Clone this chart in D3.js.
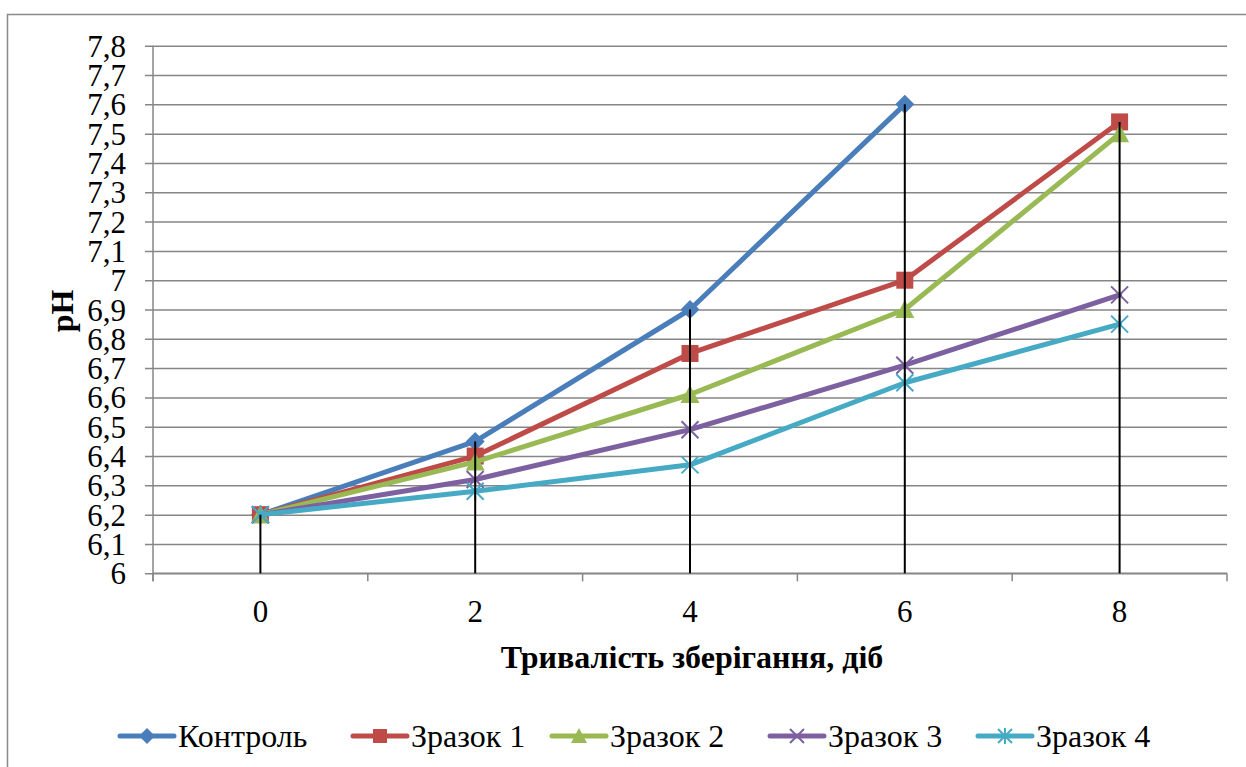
<!DOCTYPE html>
<html>
<head>
<meta charset="utf-8">
<script src="https://cdn.jsdelivr.net/npm/d3@7"></script>
<style>
    body { margin: 0; background: #fff; }
    svg { display: block; }
</style>
</head>
<body>
<svg id="chart" width="1246" height="767"></svg>
<script>
// дані
const days = ['0', '2', '4', '6', '8'];
const seriesNames = ['Контроль', 'Зразок 1', 'Зразок 2', 'Зразок 3', 'Зразок 4'];
const kontrol = [6.2, 6.45, 6.9, 7.6, null];
const zrazok1 = [6.2, 6.4, 6.75, 7.0, 7.54];
const zrazok2 = [6.2, 6.38, 6.61, 6.9, 7.5];
const zrazok3 = [6.2, 6.32, 6.49, 6.71, 6.95];
const zrazok4 = [6.2, 6.28, 6.37, 6.65, 6.85];
const yTicks = [6, 6.1, 6.2, 6.3, 6.4, 6.5, 6.6, 6.7, 6.8, 6.9, 7, 7.1, 7.2, 7.3, 7.4, 7.5, 7.6, 7.7, 7.8];

const colors = ['#4A7EBB', '#BE4B48', '#98B954', '#7D60A0', '#46AAC5'];
const markers = ['diamond', 'square', 'triangle', 'x', 'star'];
const allSeries = [kontrol, zrazok1, zrazok2, zrazok3, zrazok4];
const fontFam = 'Liberation Serif';

let svg = d3.select('#chart');

// рамка
svg.append('path')
    .attr('d', 'M7.5,800 L7.5,14.5 L1300,14.5')
    .attr('fill', 'none')
    .attr('stroke', '#8a8a8a')
    .attr('stroke-width', 1.5);

let plot = {left: 153, right: 1227, top: 45.7, bottom: 573.3};

let x = d3.scaleBand()
    .domain(days)
    .range([plot.left, plot.right])
    .padding(0);
let y = d3.scaleLinear()
    .domain([6, 7.8])
    .range([plot.bottom, plot.top]);

// сітка + вісь Y
let yAxis = svg.append('g')
    .attr('transform', 'translate(' + plot.left + ',0)')
    .call(d3.axisLeft(y)
        .tickValues(yTicks)
        .tickSize(8)
        .tickFormat(d => String(+d.toFixed(1)).replace('.', ',')));
yAxis.attr('font-family', fontFam).attr('font-size', 31);
yAxis.select('.domain').remove();
yAxis.selectAll('.tick line')
    .attr('stroke', '#868686')
    .attr('stroke-width', 1.5)
    .attr('x1', -8)
    .attr('x2', plot.right - plot.left);
yAxis.selectAll('.tick text')
    .attr('x', -27)
    .attr('dy', '0.34em')
    .attr('fill', '#000');

// вісь Y лінія
svg.append('line')
    .attr('x1', plot.left).attr('x2', plot.left)
    .attr('y1', plot.top).attr('y2', plot.bottom + 8)
    .attr('stroke', '#868686').attr('stroke-width', 1.5);

// вісь X
let xAxis = svg.append('g')
    .attr('transform', 'translate(0,' + plot.bottom + ')')
    .call(d3.axisBottom(x).tickSize(0).tickPadding(0));
xAxis.attr('font-family', fontFam).attr('font-size', 31);
xAxis.select('.domain').remove();
xAxis.selectAll('.tick text')
    .attr('y', 49)
    .attr('dy', 0)
    .attr('fill', '#000');
svg.append('line')
    .attr('x1', plot.left).attr('x2', plot.right)
    .attr('y1', plot.bottom).attr('y2', plot.bottom)
    .attr('stroke', '#868686').attr('stroke-width', 1.5);
// поділки між категоріями
let bounds = days.map(d => x(d)).concat([x(days[days.length - 1]) + x.bandwidth()]);
svg.selectAll('.xtick')
    .data(bounds)
    .enter()
    .append('line')
    .attr('x1', d => d).attr('x2', d => d)
    .attr('y1', plot.bottom).attr('y2', plot.bottom + 8)
    .attr('stroke', '#868686').attr('stroke-width', 1.5);

// підписи осей
svg.append('text')
    .attr('x', (plot.left + plot.right) / 2 + 2)
    .attr('y', 668)
    .attr('text-anchor', 'middle')
    .attr('font-family', fontFam)
    .attr('font-size', 32)
    .attr('font-weight', 'bold')
    .text('Тривалість зберігання, діб');
svg.append('text')
    .attr('transform', 'translate(73,311) rotate(-90)')
    .attr('text-anchor', 'middle')
    .attr('font-family', fontFam)
    .attr('font-size', 32)
    .attr('font-weight', 'bold')
    .text('pH');

// маркери
function drawMarker(g, type, color, cx, cy, s) {
    let h = s / 2;
    if (type === 'diamond') {
        g.append('path')
            .attr('d', `M${cx},${cy - h - 1}L${cx + h + 1},${cy}L${cx},${cy + h + 1}L${cx - h - 1},${cy}Z`)
            .attr('fill', color);
    } else if (type === 'square') {
        g.append('rect')
            .attr('x', cx - h).attr('y', cy - h)
            .attr('width', s).attr('height', s)
            .attr('fill', color);
    } else if (type === 'triangle') {
        g.append('path')
            .attr('d', `M${cx},${cy - h - 1}L${cx + h + 1},${cy + h}L${cx - h - 1},${cy + h}Z`)
            .attr('fill', color);
    } else if (type === 'x') {
        g.append('path')
            .attr('d', `M${cx - h},${cy - h}L${cx + h},${cy + h}M${cx - h},${cy + h}L${cx + h},${cy - h}`)
            .attr('stroke', color).attr('stroke-width', 2).attr('fill', 'none');
    } else {
        g.append('path')
            .attr('d', `M${cx - h},${cy - h}L${cx + h},${cy + h}M${cx - h},${cy + h}L${cx + h},${cy - h}M${cx},${cy - h - 1}L${cx},${cy + h + 1}`)
            .attr('stroke', color).attr('stroke-width', 2).attr('fill', 'none');
    }
}

let line = d3.line()
    .defined(d => d.v !== null)
    .x(d => x(d.day) + x.bandwidth() / 2)
    .y(d => y(d.v));

allSeries.forEach(function (vals, i) {
    let pts = vals.map((v, j) => ({day: days[j], v: v}));
    let g = svg.append('g');
    g.append('path')
        .datum(pts)
        .attr('d', line)
        .attr('fill', 'none')
        .attr('stroke', colors[i])
        .attr('stroke-width', 5)
        .attr('stroke-linejoin', 'round')
        .attr('stroke-linecap', 'round');
    pts.filter(p => p.v !== null).forEach(function (p) {
        drawMarker(g, markers[i], colors[i], x(p.day) + x.bandwidth() / 2, y(p.v), 17);
    });
});

// лінії проекції
days.forEach(function (d, j) {
    let top = d3.max(allSeries, s => s[j]);
    svg.append('line')
        .attr('x1', x(d) + x.bandwidth() / 2).attr('x2', x(d) + x.bandwidth() / 2)
        .attr('y1', y(top)).attr('y2', plot.bottom)
        .attr('stroke', '#000').attr('stroke-width', 2);
});

// легенда
let legendX = [120, 353, 552, 770, 978];
seriesNames.forEach(function (name, i) {
    let lx = legendX[i], ly = 736;
    let g = svg.append('g');
    g.append('line')
        .attr('x1', lx).attr('x2', lx + 54)
        .attr('y1', ly).attr('y2', ly)
        .attr('stroke', colors[i]).attr('stroke-width', 5)
        .attr('stroke-linecap', 'round');
    drawMarker(g, markers[i], colors[i], lx + 27, ly, 14);
    g.append('text')
        .attr('x', lx + 58)
        .attr('y', ly + 11)
        .attr('font-family', fontFam)
        .attr('font-size', 32)
        .text(name);
});
</script>
</body>
</html>
